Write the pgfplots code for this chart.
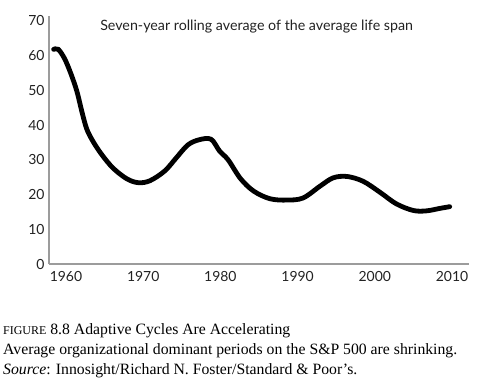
\documentclass[border=0pt]{standalone}
\usepackage{pgfplots}
\pgfplotsset{compat=1.18}
\usepackage{fontspec}
\setmainfont{Lato}
\newfontfamily\capfont{Liberation Serif}
\definecolor{axgray}{HTML}{9C9C9C}
\definecolor{txt}{HTML}{222222}
\begin{document}
\begin{tikzpicture}
\begin{axis}[
  scale only axis,
  width=420bp, height=248bp,
  xmin=1957.8, xmax=2012.2,
  ymin=0, ymax=71.4,
  axis x line*=bottom, axis y line*=left,
  axis line style={draw=axgray, line width=2.8bp, -},
  xtick={1960,1970,...,2010},
  ytick={0,10,...,70},
  major tick length=0pt,
  tick style={draw=none},
  xticklabel style={font=\fontsize{14}{16}\selectfont, text=txt, yshift=-4bp},
  yticklabel style={font=\fontsize{14}{16}\selectfont, text=txt, xshift=-1bp},
  /pgf/number format/assume math mode=true,
  /pgf/number format/1000 sep={},
  clip=false,
]
\addplot[black, line width=4.8bp, smooth, tension=0.55, line cap=round] coordinates {
(1958.4,61.8) (1959.0,61.8) (1959.8,59.2) (1960.6,55.0) (1961.4,49.8) (1962.1,43.5)
(1962.7,38.8) (1963.5,35.3) (1964.6,31.6) (1966.1,27.6) (1967.9,24.5) (1969.4,23.4)
(1970.9,24.0) (1972.8,26.8) (1974.3,30.6) (1975.8,34.3) (1977.3,35.8) (1978.8,35.9)
(1979.9,32.5) (1981.0,30.0) (1982.6,24.6) (1984.3,21.0) (1986.4,18.8) (1988.6,18.4)
(1990.7,19.0) (1992.9,22.4) (1994.6,24.8) (1996.4,25.2) (1998.5,23.8) (2000.7,20.6)
(2002.8,17.3) (2005.0,15.4) (2006.7,15.3) (2008.4,16.0) (2009.7,16.5)
};
\node[font=\fontsize{14.3}{16}\selectfont, text=txt] at (axis cs:1984.7,68.4) {Seven-year rolling average of the average life span};
\end{axis}
\node[anchor=base west, inner sep=0pt, font=\capfont\fontsize{15.8}{18}\selectfont] at (-46bp,-70bp) {{\fontsize{12}{13}\selectfont FIGURE} 8.8 Adaptive Cycles Are Accelerating};
\node[anchor=base west, inner sep=0pt, font=\capfont\fontsize{15.8}{18}\selectfont] at (-46bp,-90bp) {Average organizational dominant periods on the S\&P 500 are shrinking.};
\node[anchor=base west, inner sep=0pt, font=\capfont\fontsize{15.8}{18}\selectfont] at (-46bp,-110bp) {\textit{Source}: Innosight/Richard N. Foster/Standard \& Poor’s.};
\path[use as bounding box] (-49bp,-122bp) rectangle (451bp,264bp);
\end{tikzpicture}
\end{document}
